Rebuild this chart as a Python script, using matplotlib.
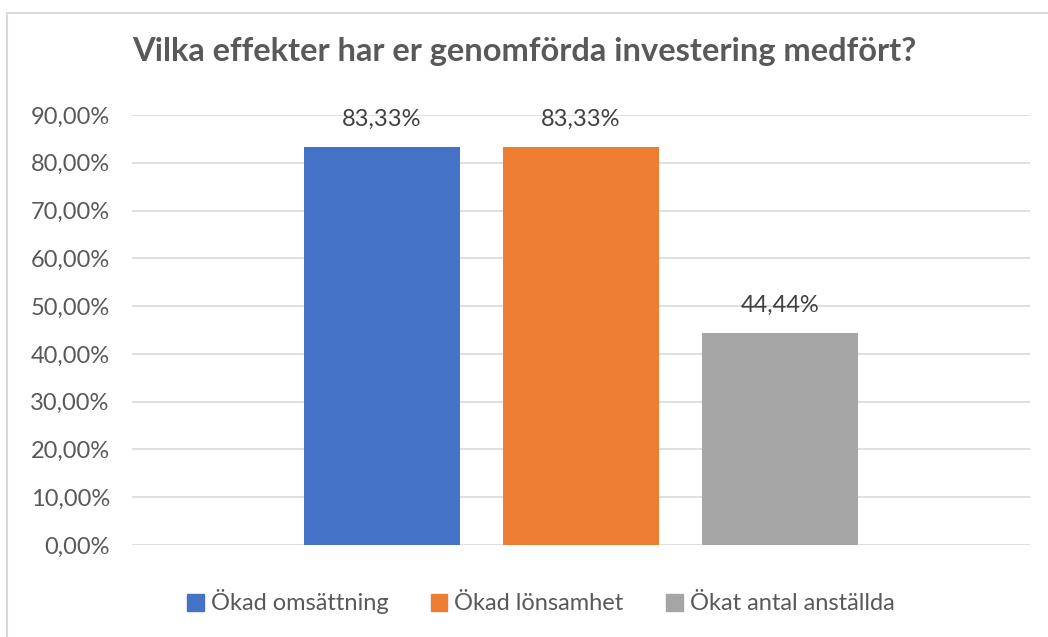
import matplotlib
matplotlib.use("Agg")
import matplotlib.pyplot as plt
from matplotlib.patches import Rectangle

categories = ["Ökad omsättning", "Ökad lönsamhet", "Ökat antal anställda"]
values = [83.33, 83.33, 44.44]
colors = ["#4472C4", "#ED7D31", "#A5A5A5"]
yticks = [0, 10, 20, 30, 40, 50, 60, 70, 80, 90]
title = "Vilka effekter har er genomförda investering medfört?"

def fmt(v):
    return f"{v:.2f}".replace(".", ",") + "%"

plt.rcParams['font.family'] = ['Lato', 'DejaVu Sans']
W, H = 1048, 637
fig = plt.figure(figsize=(W / 100, H / 100), dpi=100)
fig.patch.set_facecolor("white")

# chart border
fig.patches.append(Rectangle((7 / W, -0.01), 1.02, (H - 13) / H + 0.01, transform=fig.transFigure,
                             fill=False, edgecolor="#D9D9D9", linewidth=1.5))

ax = fig.add_axes([132 / W, (H - 545) / H, (1030 - 132) / W, (545 - 115) / H])
ax.set_facecolor("none")
x = list(range(len(categories)))
bars = ax.bar(x, values, width=156 / 199, color=colors, zorder=3, label=None)
ax.set_xlim(1 - 449 / 199, 1 + 449 / 199)
ax.set_ylim(0, 90)
ax.set_yticks(yticks)
ax.set_yticklabels([fmt(t) for t in yticks], fontsize=17, color="#595959")
ax.tick_params(axis="y", length=0, pad=16)
ax.set_xticks([])
ax.grid(axis="y", color="#D9D9D9", linewidth=1.2, zorder=0)
for s in ax.spines.values():
    s.set_visible(False)

for xi, v in zip(x, values):
    ax.text(xi, v + 3.5, fmt(v), ha="center", va="bottom", fontsize=17, color="#404040")

handles = [Rectangle((0, 0), 1, 1, color=c) for c in colors]
fig.legend(handles, categories, loc="center", bbox_to_anchor=(0.516, (H - 602) / H), ncol=3,
           frameon=False, fontsize=17, labelcolor="#595959", handlelength=0.7, handleheight=0.7,
           handletextpad=0.3, columnspacing=1.8)

fig.text(0.5, (H - 52) / H, title, ha="center", va="center", fontsize=23.5, fontweight="bold",
         color="#595959")

fig.savefig("out.png", dpi=100, facecolor="white")
